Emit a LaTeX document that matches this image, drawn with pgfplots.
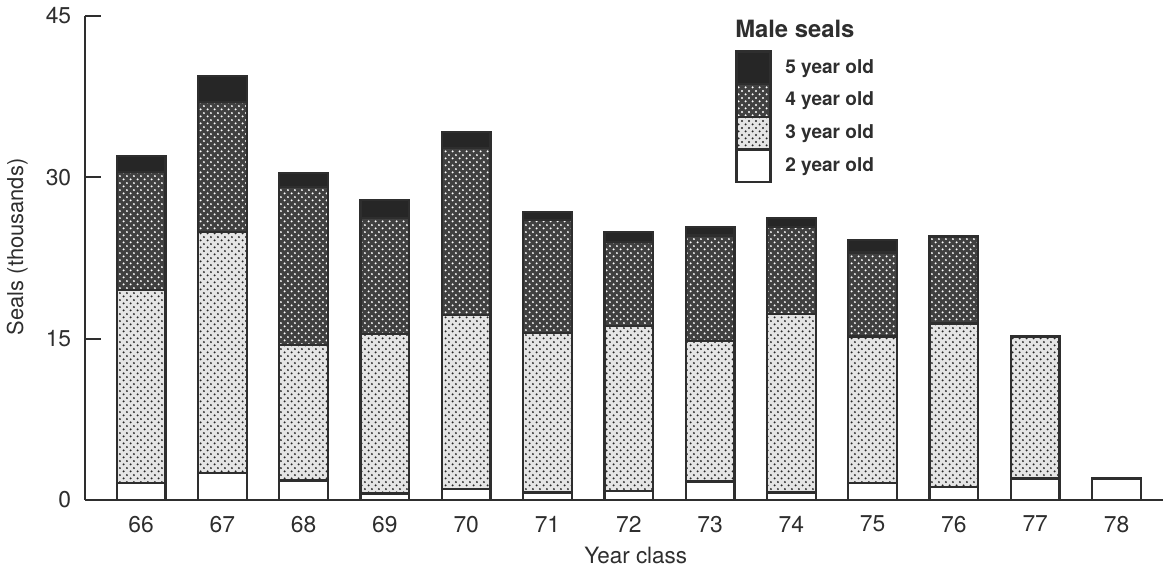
\documentclass[border=0pt]{standalone}
\usepackage{fontspec}
\setmainfont{TeX Gyre Heros}
\usepackage{pgfplots}
\usepackage{pgfplotstable}
\pgfplotsset{compat=1.18}
\usetikzlibrary{patterns.meta}

% staggered dot screen, like the printed half-tones
\pgfdeclarepattern{
  name=screen, type=uncolored,
  bottom left={\pgfpoint{0pt}{0pt}}, top right={\pgfpoint{3.8pt}{3.8pt}},
  tile size={\pgfpoint{3.8pt}{3.8pt}},
  code={
    \pgfpathcircle{\pgfpoint{0.95pt}{0.95pt}}{0.62pt}
    \pgfpathcircle{\pgfpoint{2.85pt}{2.85pt}}{0.62pt}
    \pgfusepath{fill}
  }
}

% year class, thousands of male seals by age
\pgfplotstableread{
year two three four five
66 1.6 17.9 11.0 1.5
67 2.5 22.4 12.1 2.4
68 1.8 12.6 14.7 1.3
69 0.6 14.8 10.8 1.7
70 1.0 16.2 15.5 1.5
71 0.7 14.8 10.5 0.8
72 0.8 15.4 7.8 0.9
73 1.7 13.1 9.8 0.8
74 0.7 16.6 8.1 0.8
75 1.6 13.6 7.8 1.2
76 1.2 15.2 8.1 0.0
77 2.0 13.2 0.0 0.0
78 2.0 0.0 0.0 0.0
}\seals

\colorlet{ink}{black!82}

\begin{document}
\begin{tikzpicture}
\begin{axis}[
    scale only axis,
    width=19.89cm, height=8.93cm,
    ybar stacked, bar width=0.6,
    xmin=65.31, xmax=78.57,
    ymin=0, ymax=45,
    axis lines=left,
    axis line style={-, line width=1.1pt, ink},
    xtick={66,...,78},
    x tick style={draw=none},
    ytick={0,15,30,45},
    y tick style={line width=1.1pt, ink},
    tick align=inside,
    major tick length=0.3cm,
    /pgf/number format/assume math mode=true,
    ticklabel style={font=\fontsize{12}{14}\selectfont, text=ink},
    xticklabel style={yshift=-0.17cm},
    yticklabel style={xshift=-0.13cm},
    xlabel={Year class},
    xlabel style={at={(axis description cs:0.511,0)}, anchor=center, yshift=-1.03cm,
        font=\fontsize{11.8}{14}\selectfont, text=ink},
    ylabel={Seals (thousands)},
    ylabel style={at={(axis description cs:0,0.523)}, anchor=center, yshift=1.25cm,
        font=\fontsize{11.5}{13}\selectfont, text=ink},
    every axis plot/.append style={draw=ink, line width=1.2pt},
    legend image code/.code={\draw[#1, line width=1.2pt] (0cm,-0.3015cm) rectangle (0.63cm,0.3015cm);},
    reverse legend,
    legend cell align=left,
    legend style={at={(rel axis cs:0.603,0.93)}, anchor=north west, draw=none, fill=none,
        font=\fontsize{10}{11}\selectfont\bfseries, text=ink, row sep=-1.2pt, inner sep=0pt,
        /tikz/every odd column/.append style={column sep=0.18cm}},
]
\addplot[fill=white] table[x=year, y=two] {\seals};
\addplot[fill=black!10, postaction={pattern=screen, pattern color=black!85}] table[x=year, y=three] {\seals};
\addplot[fill=black!75, postaction={pattern=screen, pattern color=white}] table[x=year, y=four] {\seals};
\addplot[fill=black!85] table[x=year, y=five] {\seals};
\legend{2 year old, 3 year old, 4 year old, 5 year old}
\node[anchor=south west, inner sep=0pt, font=\fontsize{12.5}{14}\selectfont\bfseries, text=ink]
    at (rel axis cs:0.603,0.955) {Male seals};
\coordinate (bl) at (rel axis cs:0,0);
\coordinate (tr) at (rel axis cs:1,1);
\end{axis}
\pgfresetboundingbox
\path[use as bounding box] ([xshift=-1.568cm,yshift=-1.347cm]bl) rectangle ([xshift=0.04cm,yshift=0.295cm]tr);
\end{tikzpicture}
\end{document}
